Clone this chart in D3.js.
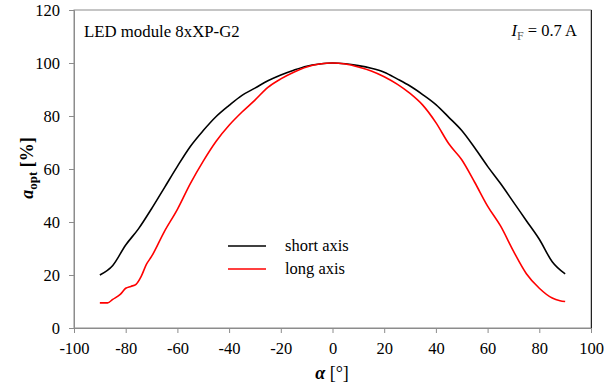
<!DOCTYPE html>
<html>
<head>
<meta charset="utf-8">
<script src="https://cdn.jsdelivr.net/npm/d3@7"></script>
<style>
  html, body { margin: 0; padding: 0; background: #fff; }
  svg { display: block; }
  text { font-family: "Liberation Serif", "Times New Roman", serif; fill: #000; }
</style>
</head>
<body>
<svg id="chart" width="613" height="386"></svg>
<script>
// Relative optical output vs. emission angle, LED module 8xXP-G2
const angles = [-90,-85,-80,-75,-70,-65,-60,-55,-50,-45,-40,-35,-30,-25,-20,-15,-10,-5,0,
                5,10,15,20,25,30,35,40,45,50,55,60,65,70,75,80,85,90];
const shortAxis = [20,23.6,31.3,37.5,45,53,61,68.5,74.5,79.8,84,87.8,90.5,93.3,95.5,97.3,98.8,99.6,100,
                   99.7,99,98,96.5,94,91.3,88,84.3,79.5,74.5,68,61,54.5,47.5,40.5,33.5,25,20.4];
const longAngles = [-90,-87,-85,-82,-80,-78,-76,-74,-72,-70,-65,-60,-55,-50,-45,-40,-35,-30,-25,-20,-15,-10,-5,0,
                    5,10,15,20,25,30,35,40,45,50,55,60,65,70,75,80,85,88,90];
const longAxis = [9.5,9.5,10.8,12.8,15,15.7,16.5,19.5,24,27,36.5,44.8,54.5,63,70.5,76.5,81.5,86,90.8,94,96.5,98.5,99.6,100,
                  99.6,98.5,97,94.8,92,88.5,84,77.5,69.5,63.5,55,46,38.5,29,20.5,15,11.3,10.3,10];
const xTicks = [-100,-80,-60,-40,-20,0,20,40,60,80,100];
const yTicks = [0,20,40,60,80,100,120];
const seriesNames = ["short axis", "long axis"];
const seriesColors = ["#000000", "#ff0000"];

const serif = '"Liberation Serif", "Times New Roman", serif';
const svg = d3.select("#chart");
const plot = { left: 74, right: 591, top: 10, bottom: 328 };

const x = d3.scaleLinear().domain([-100, 100]).range([plot.left, plot.right]);
const y = d3.scaleLinear().domain([0, 120]).range([plot.bottom, plot.top]);

// plot frame
svg.append("rect")
  .attr("x", plot.left).attr("y", plot.top)
  .attr("width", plot.right - plot.left).attr("height", plot.bottom - plot.top)
  .attr("fill", "none").attr("stroke", "#8c8c8c").attr("stroke-width", 1);
svg.append("line")
  .attr("x1", plot.right + 0.5).attr("x2", plot.right + 0.5)
  .attr("y1", plot.top).attr("y2", plot.bottom)
  .attr("stroke", "#222").attr("stroke-width", 1);

// axes (plain hyphen for negatives)
const fmt = d => String(d);
const xAxis = d3.axisBottom(x).tickValues(xTicks).tickSize(5).tickPadding(6).tickFormat(fmt);
const yAxis = d3.axisLeft(y).tickValues(yTicks).tickSize(5).tickPadding(9).tickFormat(fmt);

const gx = svg.append("g").attr("transform", `translate(0,${plot.bottom})`).call(xAxis);
const gy = svg.append("g").attr("transform", `translate(${plot.left},0)`).call(yAxis);
[gx, gy].forEach(g => {
  g.attr("font-family", null).attr("font-size", null);
  g.select(".domain").attr("stroke", "#8c8c8c");
  g.selectAll(".tick line").attr("stroke", "#8c8c8c");
  g.selectAll(".tick text")
    .style("font-family", serif)
    .style("font-size", "16.5px").attr("fill", "#000");
});
gx.selectAll(".tick text").attr("dy", "0.9em");

// curves
const line = d3.line().x(d => x(d[0])).y(d => y(d[1])).curve(d3.curveMonotoneX);
const series = [
  d3.zip(angles, shortAxis),
  d3.zip(longAngles, longAxis)
];
series.forEach((pts, i) => {
  svg.append("path").datum(pts)
    .attr("d", line)
    .attr("fill", "none")
    .attr("stroke", seriesColors[i])
    .attr("stroke-width", 1.6)
    .attr("stroke-linejoin", "round");
});

// legend
const legend = svg.append("g");
seriesNames.forEach((name, i) => {
  const ly = 246 + i * 23;
  legend.append("line")
    .attr("x1", 228).attr("x2", 266).attr("y1", ly).attr("y2", ly)
    .attr("stroke", seriesColors[i]).attr("stroke-width", 1.6);
  legend.append("text")
    .attr("x", 285).attr("y", ly + 5)
    .style("font-size", "16.5px")
    .text(name);
});

// annotations
svg.append("text").attr("x", 84).attr("y", 37).style("font-size", "16.8px")
  .text("LED module 8xXP-G2");

const ifText = svg.append("text").attr("x", 577).attr("y", 36)
  .attr("text-anchor", "end").style("font-size", "16.5px");
ifText.append("tspan").attr("font-style", "italic").text("I");
ifText.append("tspan").style("font-size", "12px").attr("dy", 4).attr("fill", "#555").text("F");
ifText.append("tspan").attr("dy", -4).text(" = 0.7 A");

// axis titles
const yTitle = svg.append("text")
  .attr("transform", "translate(33,168) rotate(-90)")
  .attr("text-anchor", "middle")
  .style("font-size", "18px").attr("font-weight", "bold");
yTitle.append("tspan").attr("font-style", "italic").text("a");
yTitle.append("tspan").style("font-size", "13px").attr("dy", 4).text("opt");
yTitle.append("tspan").attr("dy", -4).text(" [%]");

const xTitle = svg.append("text")
  .attr("x", 332).attr("y", 379)
  .attr("text-anchor", "middle")
  .style("font-size", "18px").attr("font-weight", "bold");
xTitle.append("tspan").attr("font-style", "italic").text("α");
xTitle.append("tspan").attr("font-weight", "normal").text(" [°]");
</script>
</body>
</html>
